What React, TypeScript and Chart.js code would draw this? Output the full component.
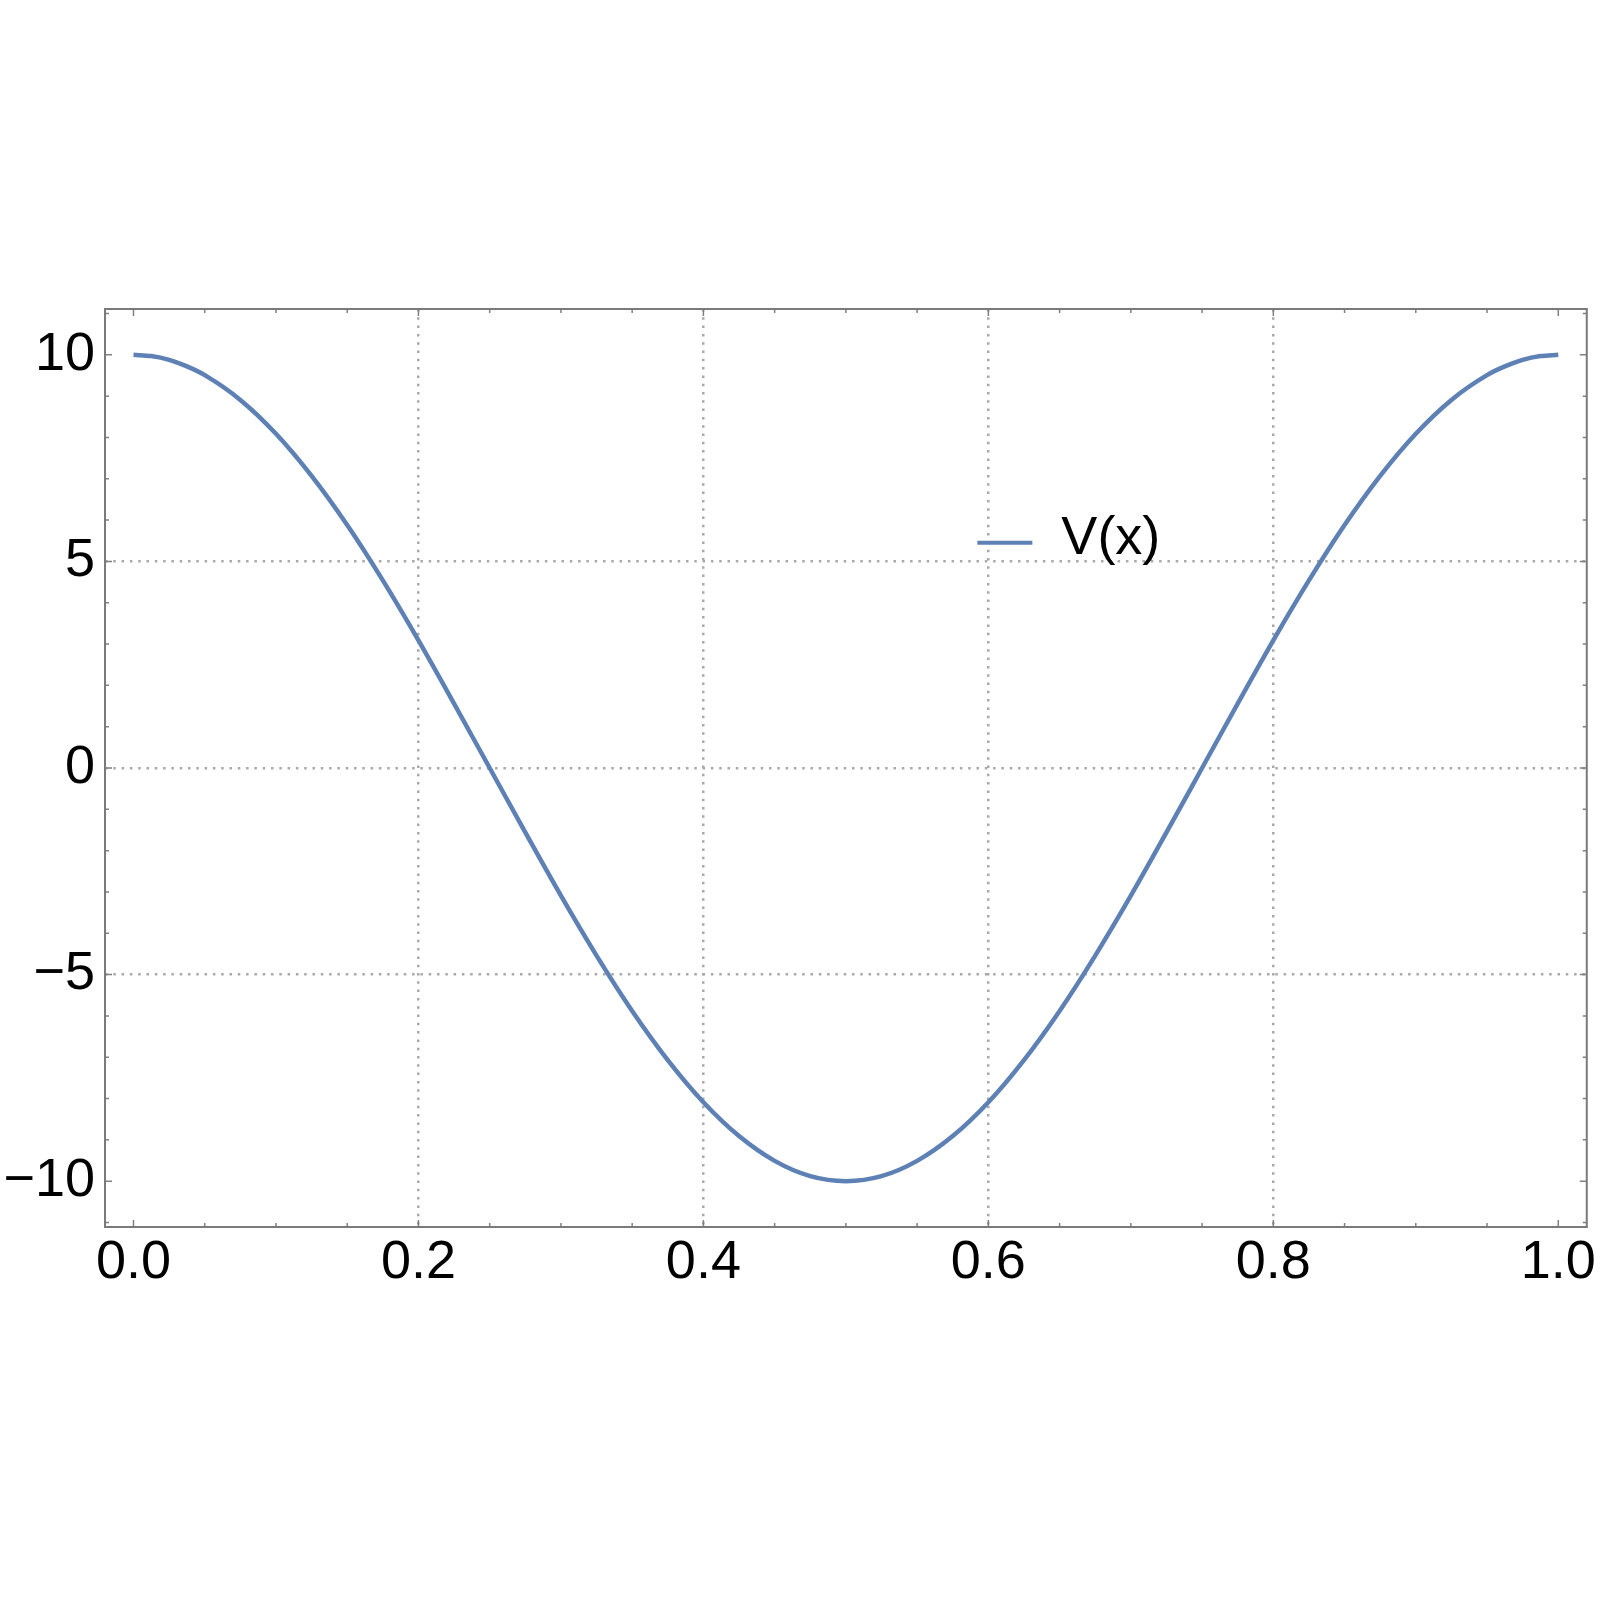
import React, { useEffect, useRef } from "react";
import { Chart, registerables } from "chart.js";

Chart.register(...registerables);

const xValues = [
  0, 0.0125, 0.025, 0.0375, 0.05, 0.075, 0.1, 0.125, 0.15, 0.175, 0.2, 0.225, 0.25, 0.275, 0.3, 0.325, 0.35, 0.375, 0.4, 0.425, 0.45, 0.475,
  0.5, 0.525, 0.55, 0.575, 0.6, 0.625, 0.65, 0.675, 0.7, 0.725, 0.75, 0.775, 0.8, 0.825, 0.85, 0.875, 0.9, 0.925, 0.95, 0.9625, 0.975, 0.9875, 1,
];
const vValues = [
  10, 9.97, 9.88, 9.72, 9.51, 8.91, 8.09, 7.07, 5.88, 4.54, 3.09, 1.56, 0, -1.56, -3.09, -4.54, -5.88, -7.07, -8.09, -8.91, -9.51, -9.88,
  -10, -9.88, -9.51, -8.91, -8.09, -7.07, -5.88, -4.54, -3.09, -1.56, 0, 1.56, 3.09, 4.54, 5.88, 7.07, 8.09, 8.91, 9.51, 9.72, 9.88, 9.97, 10,
];
const xTickValues = [0, 0.2, 0.4, 0.6, 0.8, 1.0];
const yTickValues = [-10, -5, 0, 5, 10];
const xMinorTicks = [
  0, 0.05, 0.1, 0.15, 0.2, 0.25, 0.3, 0.35, 0.4, 0.45, 0.5, 0.55, 0.6, 0.65, 0.7, 0.75, 0.8, 0.85, 0.9, 0.95, 1.0,
];
const yMinorTicks = [-11, -10, -9, -8, -7, -6, -5, -4, -3, -2, -1, 0, 1, 2, 3, 4, 5, 6, 7, 8, 9, 10, 11];
const seriesLabel = "V(x)";

const LINE_COLOR = "#5e81b5";
const FONT = "'Liberation Sans', Arial, Helvetica, sans-serif";

export default function App() {
  const ref = useRef<HTMLCanvasElement | null>(null);

  useEffect(() => {
    if (!ref.current) return;

    const framePlugin = {
      id: "frameTicksLegend",
      afterDraw(chart: any) {
        const { ctx, chartArea } = chart;
        const xs = chart.scales.x;
        const ys = chart.scales.y;
        const { left, right, top, bottom } = chartArea;
        ctx.save();
        // minor/major ticks
        ctx.strokeStyle = "#808080";
        ctx.lineWidth = 1.5;
        ctx.beginPath();
        xMinorTicks.forEach((v) => {
          const px = xs.getPixelForValue(v);
          const len = xTickValues.some((t) => Math.abs(t - v) < 1e-9) ? 7 : 4;
          ctx.moveTo(px, bottom);
          ctx.lineTo(px, bottom - len);
          ctx.moveTo(px, top);
          ctx.lineTo(px, top + len);
        });
        yMinorTicks.forEach((v) => {
          const py = ys.getPixelForValue(v);
          const len = yTickValues.includes(v) ? 7 : 4;
          ctx.moveTo(left, py);
          ctx.lineTo(left + len, py);
          ctx.moveTo(right, py);
          ctx.lineTo(right - len, py);
        });
        ctx.stroke();
        // frame
        ctx.strokeStyle = "#7a7a7a";
        ctx.lineWidth = 2;
        ctx.strokeRect(left, top, right - left, bottom - top);
        // legend
        const lx = xs.getPixelForValue(0.6) - 11;
        const ly = ys.getPixelForValue(5.5) + 2;
        ctx.strokeStyle = LINE_COLOR;
        ctx.lineWidth = 4;
        ctx.beginPath();
        ctx.moveTo(lx, ly);
        ctx.lineTo(lx + 55, ly);
        ctx.stroke();
        ctx.fillStyle = "#000";
        ctx.font = `54px ${FONT}`;
        ctx.textBaseline = "alphabetic";
        ctx.textAlign = "left";
        ctx.fillText(seriesLabel, lx + 84, ly + 11);
        ctx.restore();
      },
    };

    const chart = new Chart(ref.current, {
      type: "line",
      data: {
        datasets: [
          {
            label: seriesLabel,
            data: xValues.map((x, i) => ({ x, y: vValues[i] })),
            borderColor: LINE_COLOR,
            borderWidth: 4.5,
            pointRadius: 0,
            fill: false,
            cubicInterpolationMode: "monotone",
          },
        ],
      },
      options: {
        responsive: false,
        animation: false,
        devicePixelRatio: 1,
        layout: { padding: { top: 309, right: 10, left: 0, bottom: 0 } },
        plugins: {
          legend: { display: false },
          tooltip: { enabled: false },
          title: { display: false },
        },
        scales: {
          x: {
            type: "linear",
            min: -0.02,
            max: 1.02,
            afterBuildTicks: (scale: any) => {
              scale.ticks = xTickValues.map((v) => ({ value: v }));
            },
            afterFit: (scale: any) => {
              scale.height = 376;
            },
            ticks: {
              padding: 4,
              color: "#000",
              font: { family: FONT, size: 54 },
              maxRotation: 0,
              autoSkip: false,
              callback: (v: any) => Number(v).toFixed(1),
            },
            grid: {
              drawTicks: false,
              lineWidth: 2.5,
              color: (ctx: any) => {
                const v = ctx.tick ? ctx.tick.value : null;
                return v === 0 || v === 1 ? "rgba(0,0,0,0)" : "#a9a9a9";
              },
            },
            border: { display: false, dash: [2.5, 5.8] },
          },
          y: {
            type: "linear",
            min: -11.11,
            max: 11.11,
            afterBuildTicks: (scale: any) => {
              scale.ticks = yTickValues.map((v) => ({ value: v }));
            },
            afterFit: (scale: any) => {
              scale.width = 105;
            },
            ticks: {
              padding: 10,
              color: "#000",
              font: { family: FONT, size: 54 },
              autoSkip: false,
              callback: (v: any) => {
                const n = Number(v);
                return n < 0 ? "\u2212" + Math.abs(n) : String(n);
              },
            },
            grid: {
              drawTicks: false,
              lineWidth: 2.5,
              color: (ctx: any) => {
                const v = ctx.tick ? ctx.tick.value : null;
                return v === 10 || v === -10 ? "rgba(0,0,0,0)" : "#a9a9a9";
              },
            },
            border: { display: false, dash: [2.5, 5.8] },
          },
        },
      },
      plugins: [framePlugin],
    } as any);

    return () => chart.destroy();
  }, []);

  return (
    <div style={{ position: "absolute", left: 0, top: 0, width: 1600, height: 1603, background: "#fff" }}>
      <canvas ref={ref} width={1600} height={1603} style={{ display: "block" }} />
    </div>
  );
}
